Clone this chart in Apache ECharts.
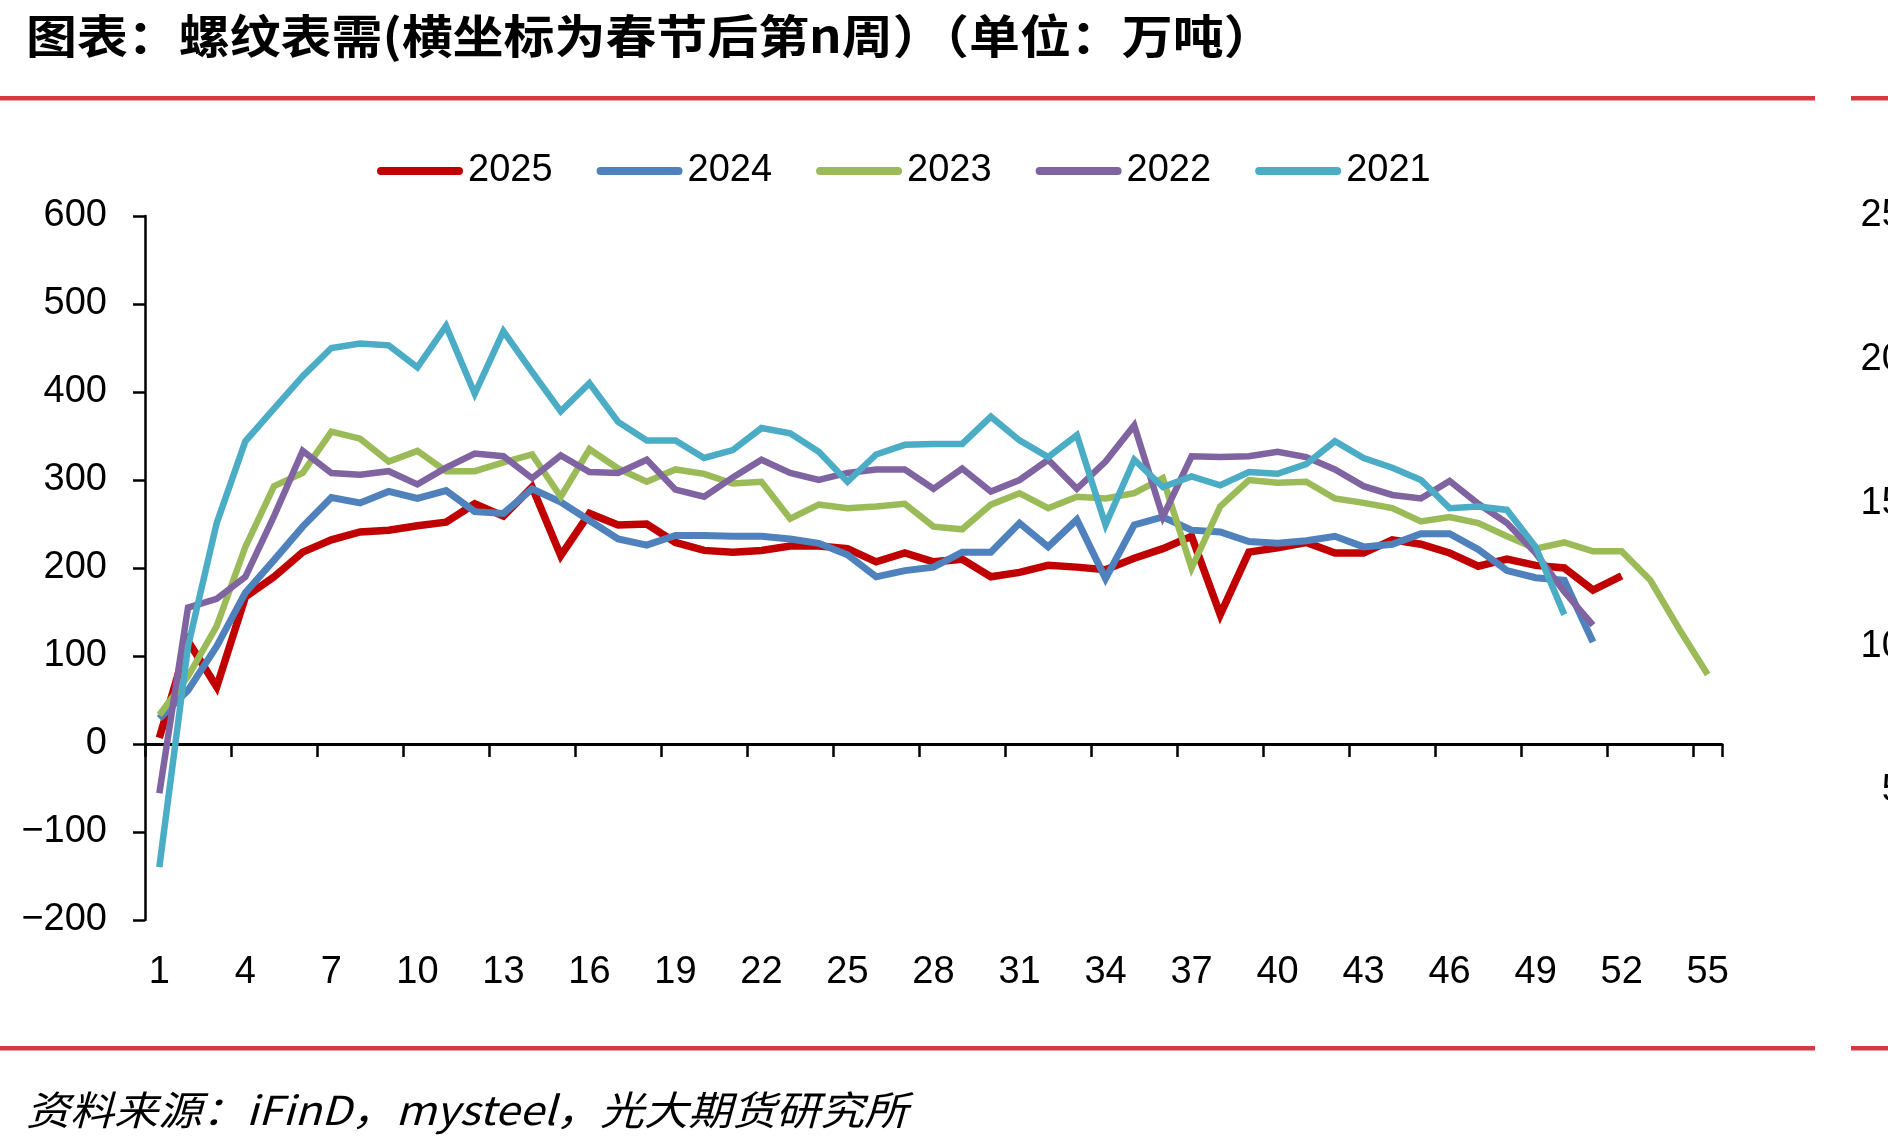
<!DOCTYPE html>
<html>
<head>
<meta charset="utf-8">
<script src="https://cdn.jsdelivr.net/npm/echarts@6/dist/echarts.min.js"></script>
<style>
html,body{margin:0;padding:0;background:#fff;overflow:hidden;width:1888px;height:1146px;}
#chart{width:1960px;height:1146px;}
</style>
</head>
<body>
<div id="chart"></div>
<script>
// ---- data ----
const weeks = ['1','2','3','4','5','6','7','8','9','10','11','12','13','14','15','16','17','18','19','20',
  '21','22','23','24','25','26','27','28','29','30','31','32','33','34','35','36','37','38','39','40',
  '41','42','43','44','45','46','47','48','49','50','51','52','53','54','55'];
const seriesNames = ['2025','2024','2023','2022','2021'];
const s2025 = [7,117,65,167,190,218,232,241,243,248,252,273,259,292,214,262,249,250,229,220,
  218,220,225,225,222,207,217,207,210,190,195,203,201,198,211,222,236,147,218,223,
  229,217,217,232,227,217,202,210,203,200,175,191];
const s2024 = [29,61,111,172,209,247,280,274,287,279,288,264,262,290,275,254,233,226,237,237,
  236,236,233,228,215,190,197,201,218,218,251,224,255,188,249,258,243,241,230,228,
  231,236,224,227,239,239,221,197,189,186,116];
const s2023 = [33,77,134,224,293,308,355,347,321,333,310,310,320,329,281,335,313,298,312,307,
  296,298,256,272,268,270,273,247,244,272,285,268,281,279,285,302,200,270,300,297,
  298,279,274,268,253,258,251,236,222,229,219,219,186,131,79];
const s2022 = [-56,155,165,190,259,333,308,306,310,295,314,330,327,302,328,309,308,323,289,281,
  303,323,308,300,308,312,312,290,313,287,300,323,290,321,362,258,327,326,327,332,
  326,312,293,283,279,299,273,251,217,173,135];
const s2021 = [-140,111,251,344,381,418,450,455,453,428,475,398,469,423,378,410,366,345,345,325,
  334,359,353,332,298,329,340,341,341,372,345,326,351,249,323,292,304,294,309,307,
  318,344,325,314,300,268,270,266,224,147];
const leftTicks = {min:-200, max:600, step:100};
const rightTicks = {min:0, max:250, step:50};

const colors = ['#C00000','#4F81BD','#9BBB59','#8064A2','#4BACC6'];
const widths = [7.5,7,6.5,6.5,6.5];
const allData = [s2025,s2024,s2023,s2022,s2021];

const FONT = "'Liberation Sans', Arial, sans-serif";
const W = 1960; // canvas is wider than the viewport; the right axis labels get clipped like the reference
const AXIS_RIGHT = 1722;

const chart = echarts.init(document.getElementById('chart'), null, {renderer:'canvas'});

const series = seriesNames.map((n,i)=>({
  name:n, type:'line', data:allData[i], xAxisIndex:0, yAxisIndex:0,
  symbol:'none', showSymbol:false, smooth:false,
  color:colors[i],
  itemStyle:{color:colors[i]},
  lineStyle:{color:colors[i], width:widths[i], join:'miter', cap:'butt'},
  z:2+i
}));

const option = {
  animation:false,
  backgroundColor:'#ffffff',
  textStyle:{fontFamily:FONT},
  grid:[
    {left:145, right:W-AXIS_RIGHT, top:216, bottom:226, containLabel:false},
    {left:145, right:W-AXIS_RIGHT, top:216, bottom:212, containLabel:false}
  ],
  legend:{
    data:seriesNames, left:372, top:144, orient:'horizontal',
    icon:'path://M4,0 L82,0 A4,4 0 0 1 82,8 L4,8 A4,4 0 0 1 4,0 Z',
    itemWidth:86, itemHeight:8, itemGap:44,
    textStyle:{fontSize:38, color:'#000', fontFamily:FONT, lineHeight:44}
  },
  xAxis:[
    {type:'category', gridIndex:0, data:weeks, boundaryGap:true, position:'bottom',
     axisLine:{onZero:true, lineStyle:{color:'#000', width:3}},
     axisTick:{show:true, interval:2, length:13, inside:false, lineStyle:{color:'#000', width:2.5}},
     axisLabel:{show:false}, splitLine:{show:false}},
    {type:'category', gridIndex:0, data:weeks, boundaryGap:true, position:'bottom',
     axisLine:{show:false, onZero:false}, axisTick:{show:false},
     axisLabel:{show:true, interval:2, fontSize:38, color:'#000', fontFamily:FONT, margin:34},
     splitLine:{show:false}},
    {type:'category', gridIndex:1, data:weeks, show:false}
  ],
  yAxis:[
    {type:'value', gridIndex:0, min:leftTicks.min, max:leftTicks.max, interval:leftTicks.step,
     axisLine:{show:true, lineStyle:{color:'#000', width:2.5}},
     axisTick:{show:true, length:12, inside:false, lineStyle:{color:'#000', width:2.5}},
     axisLabel:{fontSize:38, color:'#000', fontFamily:FONT, margin:38,
       formatter:v=> v<0 ? '\u2212'+Math.abs(v) : String(v)},
     splitLine:{show:false}},
    {type:'value', gridIndex:1, position:'right', min:rightTicks.min, max:rightTicks.max, interval:rightTicks.step,
     axisLine:{show:false}, axisTick:{show:false}, splitLine:{show:false},
     axisLabel:{fontSize:38, color:'#000', fontFamily:FONT, align:'right', margin:202}}
  ],
  series:series,
  graphic:[
    {type:'text', x:26, y:36, scaleX:1.107, z:10,
     style:{text:'图表：螺纹表需(横坐标为春节后第n周）（单位：万吨）', fill:'#000',
       font:"bold 46px 'Noto Sans CJK SC', sans-serif", textVerticalAlign:'middle', verticalAlign:'middle'}},
    {type:'rect', z:10, shape:{x:0, y:96, width:1815, height:4.5}, style:{fill:'#D53A40'}},
    {type:'rect', z:10, shape:{x:1851, y:96, width:37, height:4.5}, style:{fill:'#D53A40'}},
    {type:'rect', z:10, shape:{x:0, y:1046, width:1815, height:4.5}, style:{fill:'#D53A40'}},
    {type:'rect', z:10, shape:{x:1851, y:1046, width:37, height:4.5}, style:{fill:'#D53A40'}},
    {type:'text', x:26, y:1110, scaleX:1.1, z:10,
     style:{text:'资料来源：iFinD，mysteel，光大期货研究所', fill:'#000',
       font:"italic 40px 'Noto Sans CJK SC', sans-serif", textVerticalAlign:'middle', verticalAlign:'middle'}}
  ]
};
chart.setOption(option);
</script>
</body>
</html>
